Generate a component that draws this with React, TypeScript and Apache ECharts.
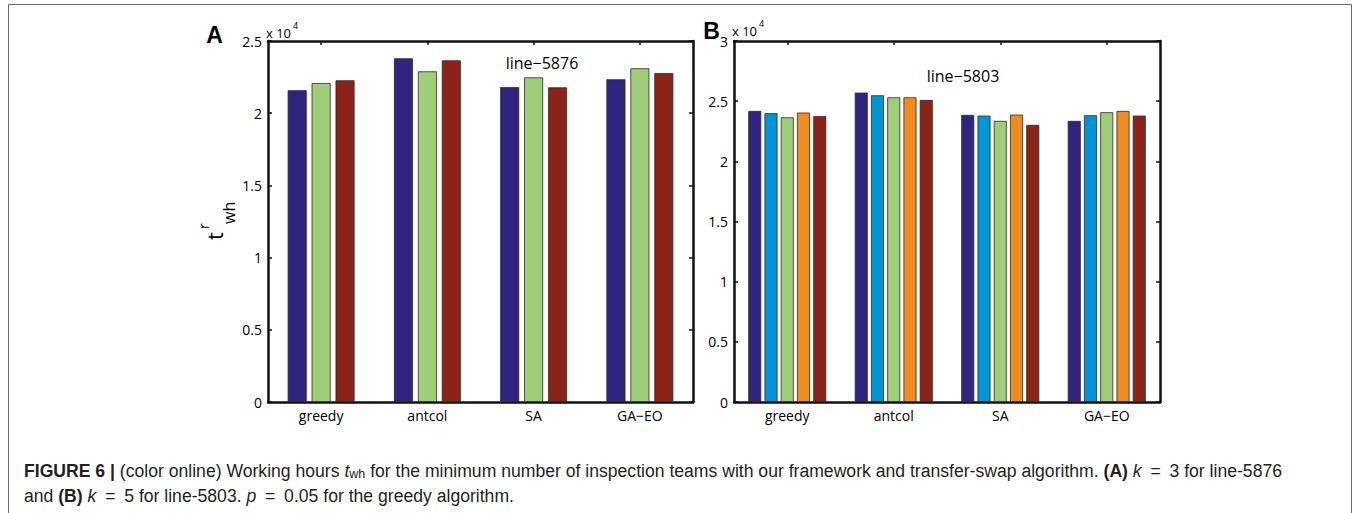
import React, { useEffect, useRef } from "react";
import * as echarts from "echarts";

const categories = ["greedy", "antcol", "SA", "GA\u2212EO"];

// Panel A (k = 3, line-5876), working hours
const a1 = [21590, 23800, 21810, 22350];
const a2 = [22090, 22900, 22480, 23110];
const a3 = [22280, 23660, 21790, 22780];

// Panel B (k = 5, line-5803), working hours
const b1 = [24190, 25710, 23860, 23360];
const b2 = [24000, 25490, 23800, 23830];
const b3 = [23660, 25320, 23360, 24080];
const b4 = [24050, 25320, 23880, 24190];
const b5 = [23750, 25100, 23030, 23800];

const yMaxA = 25000;
const yMaxB = 30000;
const yStep = 5000;

const NAVY = "#31247f";
const CYAN = "#0295d6";
const GREEN = "#a0cd7a";
const ORANGE = "#ef8b1f";
const RED = "#8c2319";

const TICK_FONT = "'Open Sans', 'DejaVu Sans', sans-serif";
const CAP_FONT = "'Liberation Sans', Arial, sans-serif";
const CAP_SIZE = 17.6;
const EQ = "\u2002=\u2002";

export default function App() {
  const ref = useRef<HTMLDivElement>(null);
  useEffect(() => {
    if (!ref.current) return;
    const chart = echarts.init(ref.current, undefined, { renderer: "svg" });

    const axisLine = () => ({ show: true, onZero: false, lineStyle: { color: "#111", width: 2.5 } });
    const axisTick = () => ({ show: true, inside: true, length: 4, lineStyle: { color: "#111", width: 1.5 } });
    const xLabel = { fontSize: 14, fontFamily: TICK_FONT, color: "#000", margin: 6 };

    const xAxes: any[] = [];
    const yAxes: any[] = [];
    [0, 1].forEach((g) => {
      xAxes.push({
        gridIndex: g, type: "category", data: categories, position: "bottom",
        axisLine: axisLine(), axisTick: { ...axisTick(), alignWithLabel: true }, axisLabel: xLabel, splitLine: { show: false },
      });
      xAxes.push({
        gridIndex: g, type: "category", data: categories, position: "top",
        axisLine: axisLine(), axisTick: { ...axisTick(), alignWithLabel: true }, axisLabel: { show: false }, splitLine: { show: false },
      });
      const max = g === 0 ? yMaxA : yMaxB;
      yAxes.push({
        gridIndex: g, type: "value", min: 0, max, interval: yStep, position: "left",
        axisLine: axisLine(), axisTick: axisTick(),
        axisLabel: { fontSize: 14, fontFamily: TICK_FONT, color: "#000", margin: 6, formatter: (v: number) => String(v / 10000) },
        splitLine: { show: false },
      });
      yAxes.push({
        gridIndex: g, type: "value", min: 0, max, interval: yStep, position: "right",
        axisLine: axisLine(), axisTick: axisTick(), axisLabel: { show: false }, splitLine: { show: false },
      });
    });

    const barA = (data: number[], color: string) => ({
      type: "bar", xAxisIndex: 0, yAxisIndex: 0, data, barWidth: 19, barGap: "26%",
      itemStyle: { color, borderColor: "#2b2b2b", borderWidth: 0.8 },
    });
    const barB = (data: number[], color: string) => ({
      type: "bar", xAxisIndex: 2, yAxisIndex: 2, data, barWidth: 13, barGap: "25%",
      itemStyle: { color, borderColor: "#2b2b2b", borderWidth: 0.8 },
    });

    const sup = (x: number, y: number) => ({
      type: "text", x, y,
      style: {
        text: "{a|x 10}{s|4}",
        verticalAlign: "middle",
        rich: {
          a: { fontSize: 13, lineHeight: 24, fontFamily: TICK_FONT, fill: "#000" },
          s: { fontSize: 9, lineHeight: 8, verticalAlign: "top", fontFamily: TICK_FONT, fill: "#000", padding: [0, 0, 0, 2] },
        },
      },
    });

    const capRich = {
      n: { fontSize: CAP_SIZE, lineHeight: 20, fontFamily: CAP_FONT, fill: "#231f20" },
      b: { fontSize: CAP_SIZE, lineHeight: 20, fontFamily: CAP_FONT, fill: "#231f20", fontWeight: "bold" },
      i: { fontSize: CAP_SIZE, lineHeight: 20, fontFamily: CAP_FONT, fill: "#231f20", fontStyle: "italic" },
      sub: { fontSize: 12.5, lineHeight: 11, verticalAlign: "bottom", fontFamily: CAP_FONT, fill: "#231f20" },
    };

    // rotated (reading bottom-to-top) text; x = centre across the line, y = start of the text
    const rotText = (text: string, x: number, y: number, size: number) => ({
      type: "text", x, y, rotation: Math.PI / 2,
      style: { text, fontSize: size, fontFamily: TICK_FONT, fill: "#000", align: "left", verticalAlign: "middle" },
    });

    chart.setOption({
      animation: false,
      backgroundColor: "#fff",
      grid: [
        { left: 268, top: 41, width: 425, height: 361 },
        { left: 734, top: 41, width: 426, height: 361 },
      ],
      xAxis: xAxes,
      yAxis: yAxes,
      series: [
        barA(a1, NAVY), barA(a2, GREEN), barA(a3, RED),
        barB(b1, NAVY), barB(b2, CYAN), barB(b3, GREEN), barB(b4, ORANGE), barB(b5, RED),
      ],
      graphic: [
        { type: "rect", shape: { x: 8.5, y: 4.5, width: 1343, height: 600 }, style: { fill: "none", stroke: "#6e6e6e", lineWidth: 1 } },
        { type: "text", x: 214.5, y: 35, style: { text: "A", fontSize: 23, fontWeight: "bold", fontFamily: CAP_FONT, fill: "#000", align: "center", verticalAlign: "middle" } },
        { type: "text", x: 711.5, y: 31, style: { text: "B", fontSize: 23, fontWeight: "bold", fontFamily: CAP_FONT, fill: "#000", align: "center", verticalAlign: "middle" } },
        sup(266, 33),
        sup(732, 31),
        { type: "text", x: 542, y: 63, style: { text: "line\u22125876", fontSize: 16, fontFamily: TICK_FONT, fill: "#000", align: "center", verticalAlign: "middle" } },
        { type: "text", x: 963, y: 76, style: { text: "line\u22125803", fontSize: 16, fontFamily: TICK_FONT, fill: "#000", align: "center", verticalAlign: "middle" } },
        rotText("t", 214, 240, 22),
        rotText("r", 203, 229, 14),
        rotText("wh", 229, 224, 16),
        {
          type: "text", x: 24, y: 470.5,
          style: {
            text: "{b|FIGURE 6 |}{n| (color online) Working hours }{i|t}{sub|wh}{n| for the minimum number of inspection teams with our framework and transfer-swap algorithm. }{b|(A)}{n| }{i|k}{n|" + EQ + "3 for line-5876}",
            verticalAlign: "middle",
            rich: capRich,
          },
        },
        {
          type: "text", x: 24, y: 496,
          style: {
            text: "{n|and }{b|(B)}{n| }{i|k}{n|" + EQ + "5 for line-5803. }{i|p}{n|" + EQ + "0.05 for the greedy algorithm.}",
            verticalAlign: "middle",
            rich: capRich,
          },
        },
      ],
    });
    return () => chart.dispose();
  }, []);
  return <div ref={ref} style={{ position: "absolute", left: 0, top: 0, width: 1354, height: 513, background: "#fff" }} />;
}
